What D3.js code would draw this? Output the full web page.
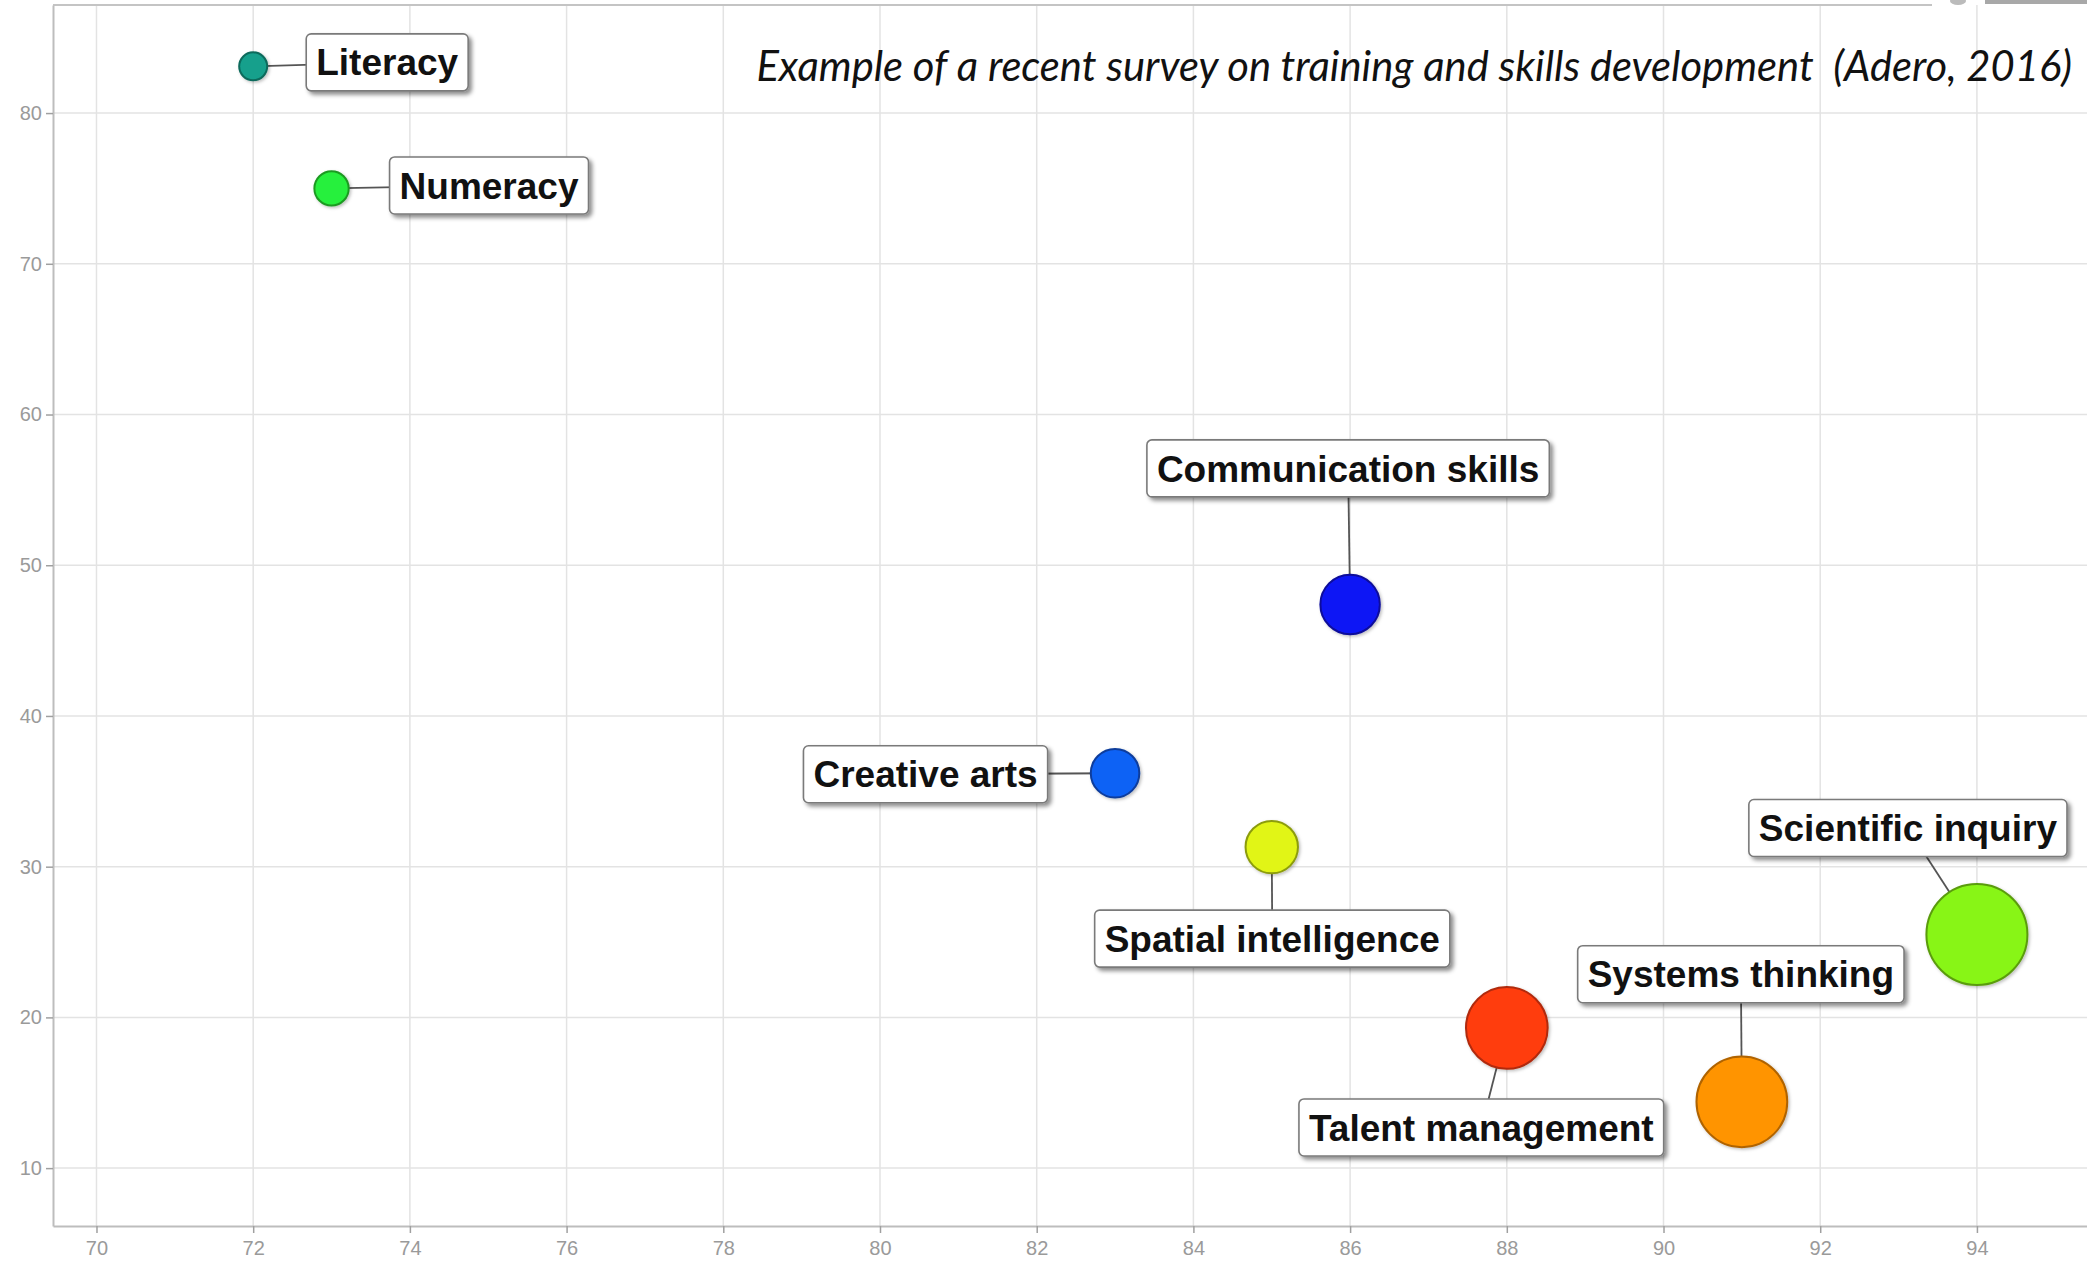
<!DOCTYPE html>
<html><head><meta charset="utf-8">
<script src="https://cdn.jsdelivr.net/npm/d3@7"></script>
<style>body{margin:0;background:#fff;overflow:hidden;} svg{display:block;}</style>
</head><body>
<svg id="chart" width="2087" height="1267"></svg>
<script>
// ---- data ----
const skills = ["Literacy","Numeracy","Communication skills","Creative arts","Spatial intelligence","Talent management","Systems thinking","Scientific inquiry"];
const xValues = [72, 73, 86, 83, 85, 88, 91, 94];
const yValues = [83.1, 75.0, 47.4, 36.2, 31.3, 19.3, 14.4, 25.5];
const sizeValues = [2, 3, 9, 6, 7, 17, 21, 26];
const xTicks = [70, 72, 74, 76, 78, 80, 82, 84, 86, 88, 90, 92, 94];
const yTicks = [10, 20, 30, 40, 50, 60, 70, 80];
const titleText = "Example of a recent survey on training and skills development  (Adero, 2016)";

// ---- styles / layout ----
const fills   = ["#14a08c","#28f03c","#0a16f5","#0a62f5","#e1f514","#ff3c0a","#ff9400","#88f514"];
const strokes = ["#0b6b5c","#1d9a22","#0b0b9a","#0a3c9c","#8c9c0a","#b02a0a","#b06400","#5a9c0a"];
const labelLayout = {
  "Literacy": {dx: 134, dy: -4},
  "Numeracy": {dx: 157.5, dy: -3},
  "Communication skills": {dx: -2, dy: -136},
  "Creative arts": {dx: -189.5, dy: 1},
  "Spatial intelligence": {dx: 0.5, dy: 91.5},
  "Talent management": {dx: -25.5, dy: 99.5},
  "Systems thinking": {dx: -1, dy: -127.6},
  "Scientific inquiry": {dx: -69, dy: -106.5}
};

const W = 2087, H = 1267;
const pLeft = 53, pRight = W, pTop = 5, pBottom = 1226;
const svg = d3.select("#chart");

const x = d3.scaleLinear().domain([69.445, 95.405]).range([pLeft, pRight]);
const y = d3.scaleLinear().domain([6.16, 87.17]).range([pBottom, pTop]);
const r = d3.scaleSqrt().domain([0, 26]).range([0, 50.5]);

const defs = svg.append("defs");
const f1 = defs.append("filter").attr("id","boxShadow").attr("x","-10%").attr("y","-20%").attr("width","130%").attr("height","160%");
f1.append("feDropShadow").attr("dx",3).attr("dy",3).attr("stdDeviation",2).attr("flood-color","#000").attr("flood-opacity",0.45);
const f2 = defs.append("filter").attr("id","dotShadow").attr("x","-30%").attr("y","-30%").attr("width","160%").attr("height","160%");
f2.append("feDropShadow").attr("dx",1.5).attr("dy",1.5).attr("stdDeviation",1.5).attr("flood-color","#000").attr("flood-opacity",0.25);

// grid
const grid = svg.append("g");
grid.selectAll("line.vx").data(xTicks).join("line")
  .attr("x1", d => x(d)).attr("x2", d => x(d)).attr("y1", pTop).attr("y2", pBottom)
  .attr("stroke", "#e3e3e3").attr("stroke-width", 1.5);
grid.selectAll("line.hy").data(yTicks).join("line")
  .attr("x1", pLeft).attr("x2", pRight).attr("y1", d => y(d)).attr("y2", d => y(d))
  .attr("stroke", "#e3e3e3").attr("stroke-width", 1.5);

// top border and cut-off element
svg.append("line").attr("x1", pLeft).attr("x2", 1932).attr("y1", pTop).attr("y2", pTop)
  .attr("stroke", "#c4c4c4").attr("stroke-width", 2);
svg.append("rect").attr("x", 1985).attr("y", 0).attr("width", 102).attr("height", 4).attr("fill", "#a8a8a8");
svg.append("ellipse").attr("cx", 1958).attr("cy", 1).attr("rx", 8).attr("ry", 4).attr("fill", "#bbb");

// axes
const xAxis = svg.append("g").attr("transform", `translate(0,${pBottom})`)
  .call(d3.axisBottom(x).tickValues(xTicks).tickSize(7).tickSizeOuter(0).tickPadding(8));
const yAxis = svg.append("g").attr("transform", `translate(${pLeft},0)`)
  .call(d3.axisLeft(y).tickValues(yTicks).tickSize(7).tickSizeOuter(0).tickPadding(4));
[xAxis, yAxis].forEach(g => {
  g.select(".domain").attr("stroke", "#bdbdbd").attr("stroke-width", 2);
  g.selectAll(".tick line").attr("stroke", "#a0a0a0").attr("stroke-width", 1.5);
  g.selectAll(".tick text").attr("fill", "#9a9a9a")
    .style("font-family", "'Liberation Sans', Arial, sans-serif").style("font-size", "20px");
});

// title
const title = svg.append("text").attr("x", 2072).attr("y", 81).attr("text-anchor", "end")
  .style("font-family", "Lato, 'Open Sans', sans-serif").style("font-style", "italic")
  .style("font-size", "38px").style("white-space", "pre").attr("fill", "#111").text(titleText);
{
  const w = title.node().getComputedTextLength();
  const target = 1316;
  title.style("font-size", (38 * target / w).toFixed(2) + "px");
}

// data rows
const rows = skills.map((s, i) => ({name: s, x: xValues[i], y: yValues[i], size: sizeValues[i], fill: fills[i], stroke: strokes[i]}));

// connectors
const fontSize = 37;
svg.append("g").selectAll("line").data(rows).join("line")
  .attr("x1", d => x(d.x)).attr("y1", d => y(d.y))
  .attr("x2", d => x(d.x) + labelLayout[d.name].dx)
  .attr("y2", d => y(d.y) + labelLayout[d.name].dy)
  .attr("stroke", "#555").attr("stroke-width", 1.8);

// bubbles
svg.append("g").selectAll("circle").data(rows).join("circle")
  .attr("cx", d => x(d.x)).attr("cy", d => y(d.y)).attr("r", d => r(d.size))
  .attr("fill", d => d.fill).attr("stroke", d => d.stroke).attr("stroke-width", 2)
  .attr("filter", "url(#dotShadow)");

// labels
const lab = svg.append("g").selectAll("g").data(rows).join("g")
  .attr("transform", d => `translate(${x(d.x) + labelLayout[d.name].dx},${y(d.y) + labelLayout[d.name].dy})`);
const rects = lab.append("rect");
const texts = lab.append("text").attr("text-anchor", "middle").attr("y", fontSize * 0.355)
  .style("font-family", "'Liberation Sans', Arial, sans-serif").style("font-weight", "bold")
  .style("font-size", fontSize + "px").attr("fill", "#111").text(d => d.name);
texts.each(function(d) { d.tw = this.getComputedTextLength(); });
rects.attr("x", d => -(d.tw / 2 + 10)).attr("y", -28.5).attr("width", d => d.tw + 20).attr("height", 57)
  .attr("rx", 5).attr("fill", "#fff").attr("stroke", "#7a7a7a").attr("stroke-width", 1.6)
  .attr("filter", "url(#boxShadow)");
</script>
</body></html>
